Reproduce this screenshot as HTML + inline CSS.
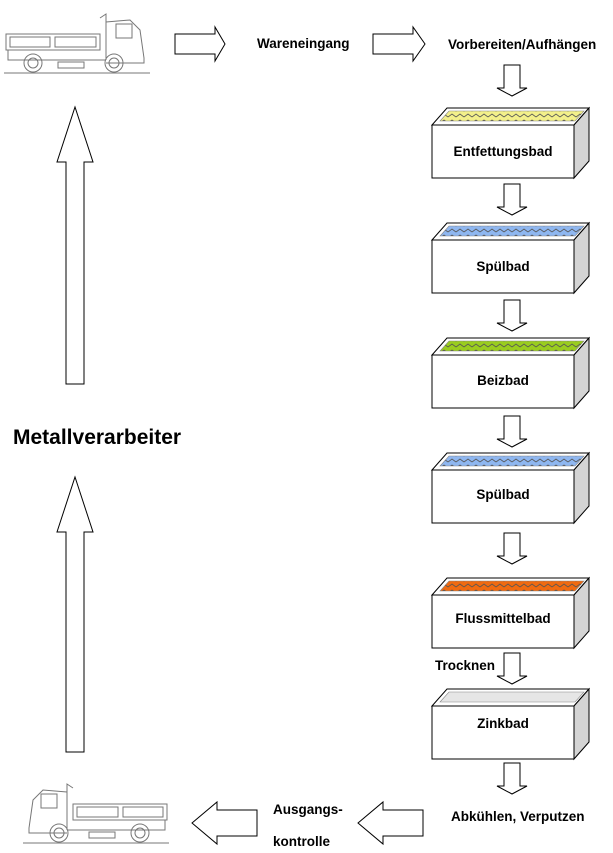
<!DOCTYPE html>
<html><head><meta charset="utf-8"><style>
html,body{margin:0;padding:0;background:#fff;}
svg{display:block}
text{font-family:"Liberation Sans",Arial,sans-serif;font-weight:bold;fill:#000}
</style></head><body>
<svg width="613" height="853" viewBox="0 0 613 853" xmlns="http://www.w3.org/2000/svg">
<defs>
<g id="box">
  <polygon points="0,0 15,-17 157,-17 142,0" fill="#fff" stroke="#000" stroke-width="1"/>
  <polygon points="142,0 157,-17 157,36 142,53" fill="#d4d4d4" stroke="#000" stroke-width="1"/>
  <rect x="0" y="0" width="142" height="53" fill="#fff" stroke="#000" stroke-width="1"/>
</g>
<g id="down">
  <polygon points="-8,0 8,0 8,23 15,23 0,31 -15,23 -8,23" fill="#fff" stroke="#000" stroke-width="1"/>
</g>
<g id="truck" fill="none" stroke="#777" stroke-width="1">
  <line x1="4" y1="73" x2="150" y2="73"/>
  <rect x="6" y="34" width="94" height="16"/>
  <rect x="10" y="37" width="40" height="10"/>
  <rect x="55" y="37" width="41" height="10"/>
  <path d="M100,18 L106,14 L106,60 M106,22 L130,20 L140,30 L144,58 L144,63 L106,63"/>
  <rect x="116" y="24" width="16" height="14"/>
  <path d="M8,50 L8,60 L106,60"/>
  <circle cx="33" cy="63" r="9"/><circle cx="33" cy="63" r="5"/>
  <circle cx="114" cy="63" r="9"/><circle cx="114" cy="63" r="5"/>
  <rect x="58" y="62" width="26" height="6"/>
</g>
<pattern id="zz" width="8" height="6" patternUnits="userSpaceOnUse">
  <path d="M0,4 L4,1 L8,4" fill="none" stroke="#555" stroke-width="0.8"/>
</pattern>
</defs>

<use href="#truck" transform="translate(0,0)"/>
<use href="#truck" transform="translate(173,770) scale(-1,1)"/>

<polygon points="175,34 215,34 215,27 225,44 215,61 215,54 175,54" fill="#fff" stroke="#000"/>
<polygon points="373,34 413,34 413,27 425,44 413,61 413,54 373,54" fill="#fff" stroke="#000"/>
<polygon points="257,810 217,810 217,802 192,823 217,844 217,836 257,836" fill="#fff" stroke="#000"/>
<polygon points="423,810 383,810 383,802 358,823 383,844 383,836 423,836" fill="#fff" stroke="#000"/>

<polygon points="66,384 66,162 57,162 75,107 93,162 84,162 84,384" fill="#fff" stroke="#000"/>
<polygon points="66,752 66,532 57,532 75,477 93,532 84,532 84,752" fill="#fff" stroke="#000"/>

<text x="13" y="444" font-size="21">Metallverarbeiter</text>
<text x="257" y="48" font-size="13.5">Wareneingang</text>
<text x="448" y="49" font-size="13.5">Vorbereiten/Aufhängen</text>
<text x="273" y="814" font-size="13.5">Ausgangs-</text>
<text x="273" y="846" font-size="13.5">kontrolle</text>
<text x="451" y="821" font-size="13.5">Abkühlen, Verputzen</text>
<text x="435" y="670" font-size="13.5">Trocknen</text>

<use href="#down" transform="translate(512,65)"/>
<use href="#down" transform="translate(512,184)"/>
<use href="#down" transform="translate(512,300)"/>
<use href="#down" transform="translate(512,416)"/>
<use href="#down" transform="translate(512,533)"/>
<use href="#down" transform="translate(512,653)"/>
<use href="#down" transform="translate(512,763)"/>

<g transform="translate(432,125)"><use href="#box"/>
 <polygon points="8,-4 17,-14 152,-14 143,-4" fill="#f3f08a" stroke="#888" stroke-width="0.6"/>
 <polygon points="8,-4 17,-14 152,-14 143,-4" fill="url(#zz)"/>
 <text x="71" y="31" font-size="13.5" text-anchor="middle">Entfettungsbad</text></g>
<g transform="translate(432,240)"><use href="#box"/>
 <polygon points="8,-4 17,-14 152,-14 143,-4" fill="#8fb7f0" stroke="#888" stroke-width="0.6"/>
 <polygon points="8,-4 17,-14 152,-14 143,-4" fill="url(#zz)"/>
 <text x="71" y="31" font-size="13.5" text-anchor="middle">Spülbad</text></g>
<g transform="translate(432,355)"><use href="#box"/>
 <polygon points="8,-4 17,-14 152,-14 143,-4" fill="#9acd1e" stroke="#888" stroke-width="0.6"/>
 <polygon points="8,-4 17,-14 152,-14 143,-4" fill="url(#zz)"/>
 <text x="71" y="30" font-size="13.5" text-anchor="middle">Beizbad</text></g>
<g transform="translate(432,470)"><use href="#box"/>
 <polygon points="8,-4 17,-14 152,-14 143,-4" fill="#8fb7f0" stroke="#888" stroke-width="0.6"/>
 <polygon points="8,-4 17,-14 152,-14 143,-4" fill="url(#zz)"/>
 <text x="71" y="29" font-size="13.5" text-anchor="middle">Spülbad</text></g>
<g transform="translate(432,595)"><use href="#box"/>
 <polygon points="8,-4 17,-14 152,-14 143,-4" fill="#f06a10" stroke="#888" stroke-width="0.6"/>
 <polygon points="8,-4 17,-14 152,-14 143,-4" fill="url(#zz)"/>
 <text x="71" y="28" font-size="13.5" text-anchor="middle">Flussmittelbad</text></g>
<g transform="translate(432,706)"><use href="#box"/>
 <polygon points="8,-4 17,-14 152,-14 143,-4" fill="#e6e6e6" stroke="#888" stroke-width="0.6"/>
 <text x="71" y="22" font-size="13.5" text-anchor="middle">Zinkbad</text></g>
</svg>
</body></html>
